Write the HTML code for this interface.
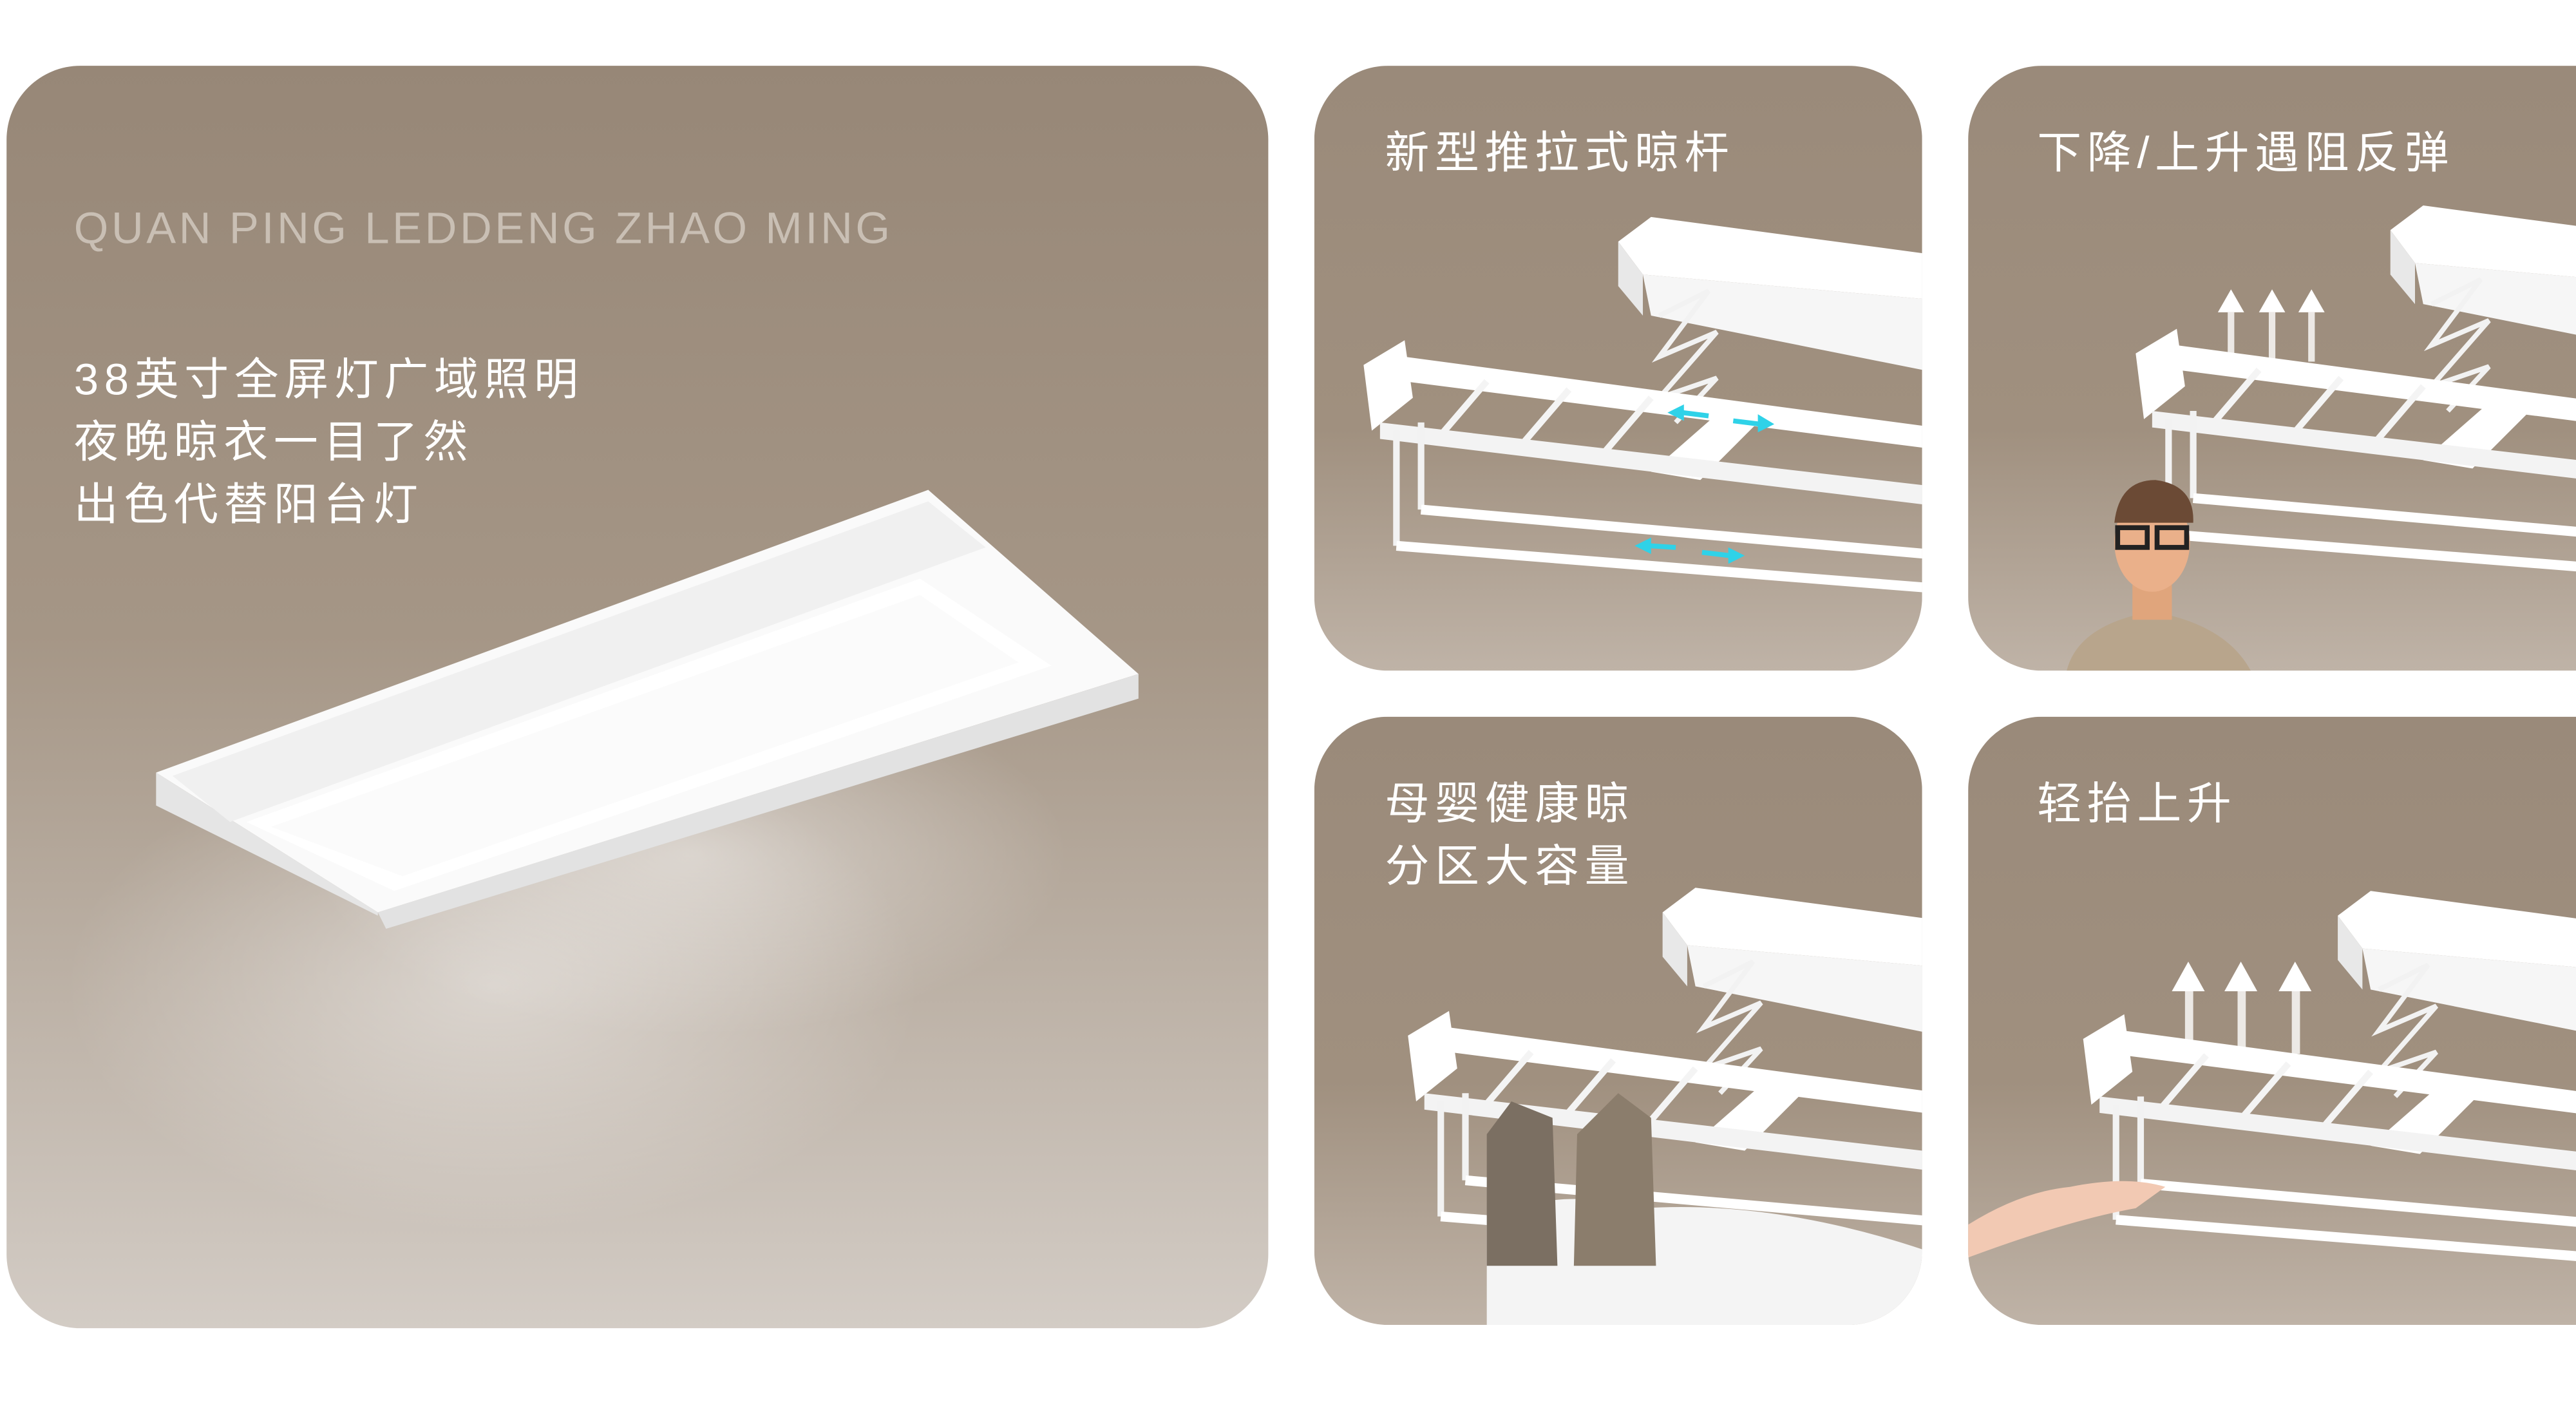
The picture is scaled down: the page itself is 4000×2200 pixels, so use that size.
<!DOCTYPE html>
<html><head><meta charset="utf-8"><style>
html,body{margin:0;padding:0;background:#fff;width:4000px;height:2200px;overflow:hidden}
svg{display:block}
text{font-family:"Liberation Sans","Noto Sans CJK SC",sans-serif;fill:#fff}
</style></head><body>
<svg width="4000" height="2200" viewBox="0 0 1568 862" preserveAspectRatio="none">
<defs>
<linearGradient id="bg" x1="0" y1="0" x2="0" y2="1">
<stop offset="0" stop-color="#978777"/><stop offset="0.45" stop-color="#a59686"/><stop offset="1" stop-color="#d3ccc5"/></linearGradient>
<linearGradient id="bg2" x1="0" y1="0" x2="0" y2="1">
<stop offset="0" stop-color="#9a8a7a"/><stop offset="0.6" stop-color="#a0907f"/><stop offset="1" stop-color="#bfb3a7"/></linearGradient>
<radialGradient id="glow" cx="0.5" cy="0.5" r="0.5">
<stop offset="0" stop-color="#fff" stop-opacity="0.75"/><stop offset="1" stop-color="#fff" stop-opacity="0"/></radialGradient>
<clipPath id="c1"><rect x="800" y="40" width="370" height="368" rx="45"/></clipPath>
<clipPath id="c2"><rect x="1198" y="40" width="420" height="368" rx="45"/></clipPath>
<clipPath id="c3"><rect x="800" y="436" width="370" height="370" rx="45"/></clipPath>
<clipPath id="c4"><rect x="1198" y="436" width="420" height="370" rx="45"/></clipPath>
<g id="rack">
<polygon points="155,95 175,80 400,110 400,135 170,115" fill="#fff"/>
<polygon points="155,95 170,115 170,140 155,122" fill="#e8e8e8"/>
<polygon points="170,115 400,135 400,185 175,140" fill="#f6f6f6"/>
<polyline points="180,140 210,125 180,165 215,150 180,190 215,178 190,205" fill="none" stroke="#f2f2f2" stroke-width="3"/>
<polygon points="0,170 25,155 30,190 5,210" fill="#fff"/>
<polygon points="25,165 400,215 400,228 25,180" fill="#fff"/>
<line x1="45" y1="215" x2="75" y2="180" stroke="#f4f4f4" stroke-width="4"/>
<line x1="95" y1="220" x2="125" y2="185" stroke="#f4f4f4" stroke-width="4"/>
<line x1="145" y1="225" x2="175" y2="190" stroke="#f4f4f4" stroke-width="4"/>
<polygon points="175,235 215,200 245,200 205,240" fill="#fff"/>
<polygon points="10,205 400,250 400,262 10,215" fill="#f3f3f3"/>
<line x1="20" y1="210" x2="20" y2="280" stroke="#f2f2f2" stroke-width="4"/>
<line x1="35" y1="205" x2="35" y2="258" stroke="#f2f2f2" stroke-width="4"/>
<line x1="35" y1="258" x2="400" y2="290" stroke="#fff" stroke-width="6"/>
<line x1="20" y1="280" x2="400" y2="310" stroke="#fff" stroke-width="6"/>
</g>
</defs>
<rect width="1568" height="862" fill="#fff"/>
<rect x="4" y="40" width="768" height="768" rx="45" fill="url(#bg)"/>
<text x="45" y="148" font-size="27" letter-spacing="1.8" style="fill:#c9bfb4">QUAN PING LEDDENG ZHAO MING</text>
<text x="45" y="240" font-size="27" letter-spacing="3.4">38英寸全屏灯广域照明</text>
<text x="45" y="278" font-size="27" letter-spacing="3.4">夜晚晾衣一目了然</text>
<text x="45" y="316" font-size="27" letter-spacing="3.4">出色代替阳台灯</text>
<ellipse cx="300" cy="600" rx="260" ry="150" fill="url(#glow)" opacity="0.6"/>
<ellipse cx="420" cy="520" rx="230" ry="110" fill="url(#glow)" opacity="0.6"/>
<polygon points="95,470 565,298 693,410 230,555" fill="#fafafa"/>
<polygon points="95,470 95,490 230,557 230,555" fill="#e5e5e5"/>
<polygon points="230,555 693,410 693,425 235,565" fill="#e2e2e2"/>
<polygon points="105,472 565,305 600,333 140,500" fill="#f0f0f0"/>
<polygon points="150,500 560,352 640,405 240,542" fill="#fff"/>
<polygon points="165,503 560,362 620,403 245,533" fill="#fbfbfb"/>
<g clip-path="url(#c1)">
<rect x="800" y="40" width="370" height="368" fill="url(#bg2)"/>
<use href="#rack" transform="translate(830,52)"/>
<polygon points="1015,251 1025,246 1025,256" fill="#2fd2e8"/><line x1="1024" y1="251" x2="1040" y2="253" stroke="#2fd2e8" stroke-width="3"/>
<polygon points="1080,258 1070,252 1070,263" fill="#2fd2e8"/><line x1="1055" y1="256" x2="1071" y2="258" stroke="#2fd2e8" stroke-width="3"/>
<polygon points="995,332 1005,327 1005,337" fill="#2fd2e8"/><line x1="1004" y1="332" x2="1020" y2="333" stroke="#2fd2e8" stroke-width="3"/>
<polygon points="1062,338 1052,333 1052,343" fill="#2fd2e8"/><line x1="1036" y1="336" x2="1053" y2="338" stroke="#2fd2e8" stroke-width="3"/>
</g>
<text x="843" y="102" font-size="27" letter-spacing="3.4">新型推拉式晾杆</text>
<g clip-path="url(#c2)">
<rect x="1198" y="40" width="420" height="368" fill="url(#bg2)"/>
<use href="#rack" transform="translate(1300,45)"/>
<g fill="#fff"><polygon points="1358,176 1350,190 1366,190"/><rect x="1356" y="190" width="4" height="30" opacity="0.8"/>
<polygon points="1383,176 1375,190 1391,190"/><rect x="1381" y="190" width="4" height="30" opacity="0.8"/>
<polygon points="1407,176 1399,190 1415,190"/><rect x="1405" y="190" width="4" height="30" opacity="0.8"/></g>
<path d="M1258,408 Q1265,380 1310,372 Q1355,380 1370,408 Z" fill="#b8a58c"/>
<rect x="1298" y="355" width="24" height="22" fill="#e0a57c"/>
<ellipse cx="1310" cy="330" rx="23" ry="30" fill="#eab08a"/>
<path d="M1287,318 Q1290,292 1312,292 Q1336,295 1335,318 Z" fill="#6b4a35"/>
<rect x="1289" y="321" width="18" height="12" fill="none" stroke="#222" stroke-width="3"/>
<rect x="1313" y="321" width="18" height="12" fill="none" stroke="#222" stroke-width="3"/>
</g>
<text x="1240" y="102" font-size="27" letter-spacing="3.4">下降/上升遇阻反弹</text>
<g clip-path="url(#c3)">
<rect x="800" y="436" width="370" height="370" fill="url(#bg2)"/>
<use href="#rack" transform="translate(857,460)"/>
<path d="M905,745 Q940,720 1000,735 Q1080,730 1170,760 L1170,806 L905,806 Z" fill="#f4f4f4"/>
<path d="M905,690 L920,670 L945,680 L948,770 L905,770 Z" fill="#7b6f62"/>
<path d="M960,690 L985,665 L1005,680 L1008,770 L958,770 Z" fill="#8b7d6c"/>
</g>
<text x="843" y="498" font-size="27" letter-spacing="3.4">母婴健康晾</text>
<text x="843" y="536" font-size="27" letter-spacing="3.4">分区大容量</text>
<g clip-path="url(#c4)">
<rect x="1198" y="436" width="420" height="370" fill="url(#bg2)"/>
<use href="#rack" transform="translate(1268,462)"/>
<g fill="#fff"><polygon points="1332,585 1322,603 1342,603"/><rect x="1330" y="603" width="5" height="38" opacity="0.8"/>
<polygon points="1364,585 1354,603 1374,603"/><rect x="1362" y="603" width="5" height="38" opacity="0.8"/>
<polygon points="1397,585 1387,603 1407,603"/><rect x="1395" y="603" width="5" height="38" opacity="0.8"/></g>
<path d="M1198,745 Q1230,725 1260,722 Q1295,715 1318,722 L1300,735 Q1260,742 1198,765 Z" fill="#f2c9b3"/>
</g>
<text x="1240" y="498" font-size="27" letter-spacing="3.4">轻抬上升</text>
</svg>
</body></html>
